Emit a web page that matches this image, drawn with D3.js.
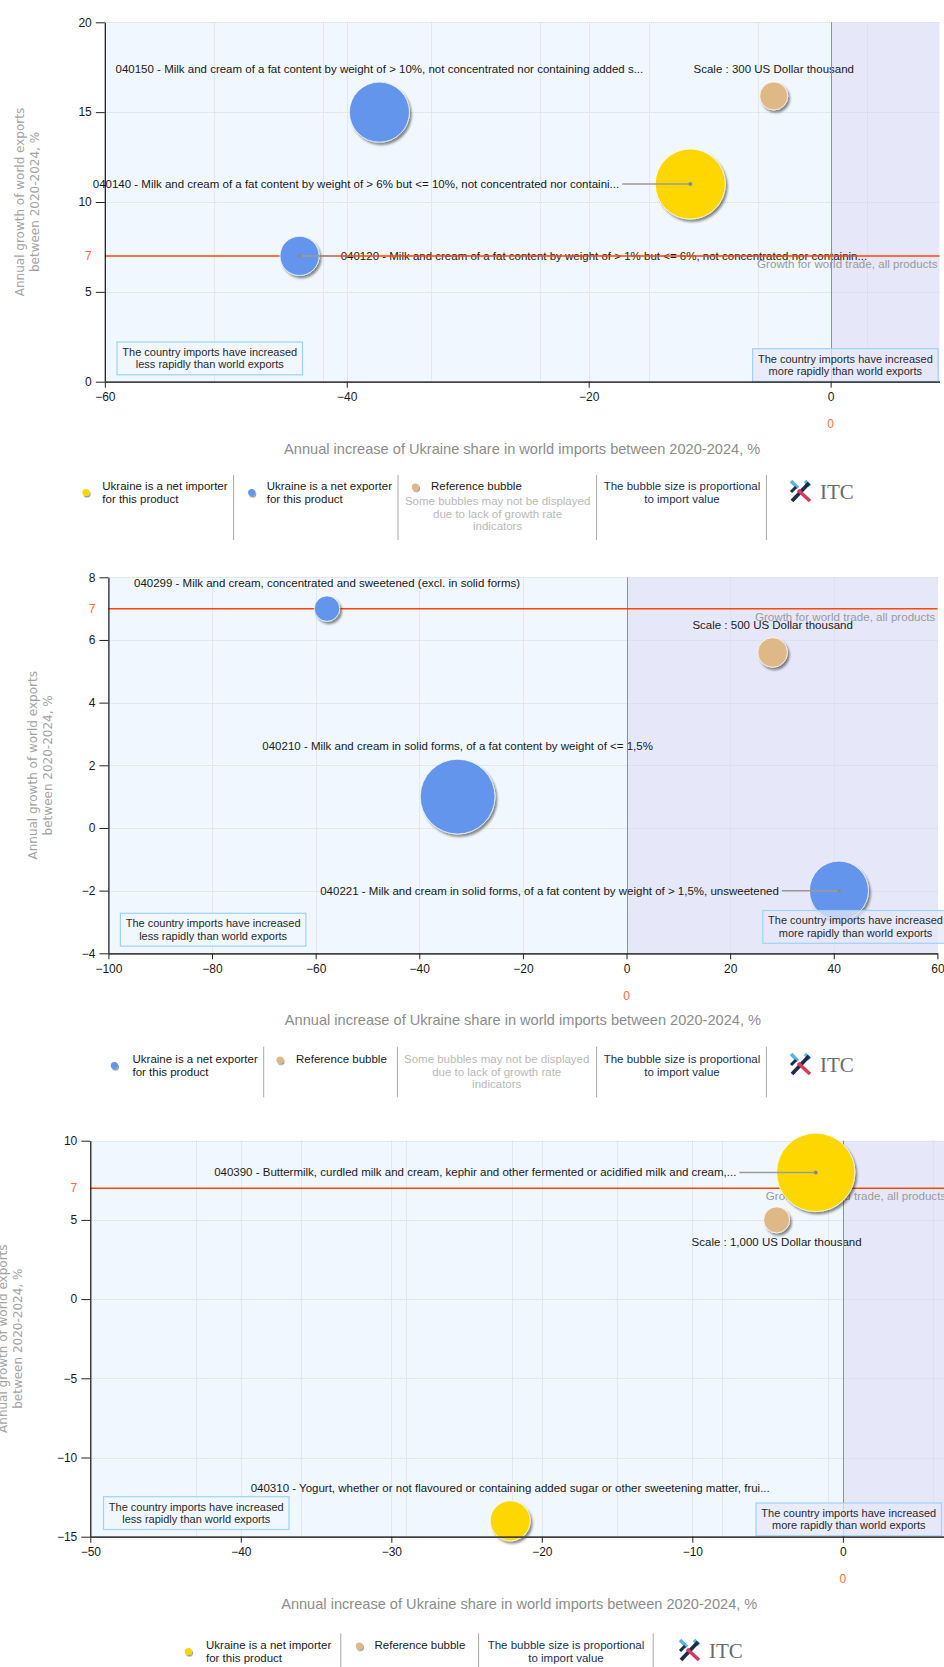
<!DOCTYPE html>
<html><head><meta charset="utf-8">
<script src="https://cdn.jsdelivr.net/npm/d3@7"></script>
<style>
body{margin:0;background:#fff;}
svg{display:block;font-family:"Liberation Sans",Arial,sans-serif;}
</style></head><body>
<svg id="chart" width="944" height="1667"></svg>
<script>
// ================= DATA =================
// shared
const worldTradeGrowth = 7;
const refShareGrowth = [-4.7, 28.2, -4.4];
const refWorldGrowth = [15.9, 5.6, 5];
const refValue = [300, 500, 1000];
const refLabels = ["Scale : 300 US Dollar thousand", "Scale : 500 US Dollar thousand", "Scale : 1,000 US Dollar thousand"];

// chart 1
const c1Labels = [
  "040150 - Milk and cream of a fat content by weight of > 10%, not concentrated nor containing added s...",
  "040140 - Milk and cream of a fat content by weight of > 6% but <= 10%, not concentrated nor containi...",
  "040120 - Milk and cream of a fat content by weight of > 1% but <= 6%, not concentrated nor containin..."
];
const c1ShareGrowth = [-37.3, -11.6, -43.9];
const c1WorldGrowth = [15, 11, 7];
const c1ImportValue = [1380, 1880, 585];
const c1Trader = ["exporter", "importer", "exporter"];
const c1XTicks = [-60, -40, -20, 0];
const c1YTicks = [0, 5, 10, 15, 20];

// chart 2
const c2Labels = [
  "040299 - Milk and cream, concentrated and sweetened (excl. in solid forms)",
  "040210 - Milk and cream in solid forms, of a fat content by weight of <= 1,5%",
  "040221 - Milk and cream in solid forms, of a fat content by weight of > 1,5%, unsweetened"
];
const c2ShareGrowth = [-57.8, -32.6, 41];
const c2WorldGrowth = [7, 1, -2];
const c2ImportValue = [368, 3190, 1990];
const c2Trader = ["exporter", "exporter", "exporter"];
const c2XTicks = [-100, -80, -60, -40, -20, 0, 20, 40, 60];
const c2YTicks = [-4, -2, 0, 2, 4, 6, 8];

// chart 3
const c3Labels = [
  "040390 - Buttermilk, curdled milk and cream, kephir and other fermented or acidified milk and cream,...",
  "040310 - Yogurt, whether or not flavoured or containing added sugar or other sweetening matter, frui..."
];
const c3ShareGrowth = [-1.8, -22.1];
const c3WorldGrowth = [8, -14];
const c3ImportValue = [9090, 2370];
const c3Trader = ["importer", "importer"];
const c3XTicks = [-50, -40, -30, -20, -10, 0];
const c3YTicks = [-15, -10, -5, 0, 5, 10];

const yTitle = ["Annual growth of world exports", "between 2020-2024, %"];
const xTitle = "Annual increase of Ukraine share in world imports between 2020-2024, %";
const boxLess = ["The country imports have increased", "less rapidly than world exports"];
const boxMore = ["The country imports have increased", "more rapidly than world exports"];
const growthLabel = "Growth for world trade, all products";
const legImporter = ["Ukraine is a net importer", "for this product"];
const legExporter = ["Ukraine is a net exporter", "for this product"];
const legRef = "Reference bubble";
const legNote = ["Some bubbles may not be displayed", "due to lack of growth rate", "indicators"];
const legSize = ["The bubble size is proportional", "to import value"];

// ================= LAYOUT =================
const colorOf = {importer: "#FFD700", exporter: "#6495ED", reference: "#DEB887"};

const charts = [
  {labels: c1Labels, xs: c1ShareGrowth, ys: c1WorldGrowth, vals: c1ImportValue, types: c1Trader,
   xTicks: c1XTicks, yTicks: c1YTicks, idx: 0,
   top: 22.3, bottom: 381.7, left: 104.8, right: 939.5, xDomain: [-60, 9], yDomain: [0, 20], gridStep: 9,
   refR: 14, labelPos: ["above", "left", "right"], refPos: "above", titleX: [20, 35],
   boxL: [117, 342], boxR: [752.6, 348.7],
   legend: {y: 486, sepTop: 475, sepBot: 540, items: [
     {t: "dot2", c: "importer", x: 86, lines: legImporter, tx: 102.3},
     {t: "sep", x: 233.6},
     {t: "dot2", c: "exporter", x: 251.7, lines: legExporter, tx: 266.7},
     {t: "sep", x: 398},
     {t: "ref", x: 415.4, tx: 431, noteX: 497.6, noteY: 501},
     {t: "sep", x: 596.6},
     {t: "size", x: 682},
     {t: "sep", x: 766.4},
     {t: "logo", x: 790, y: 491}
   ]}},
  {labels: c2Labels, xs: c2ShareGrowth, ys: c2WorldGrowth, vals: c2ImportValue, types: c2Trader,
   xTicks: c2XTicks, yTicks: c2YTicks, idx: 1,
   top: 577.3, bottom: 953.3, left: 108.4, right: 937.4, xDomain: [-100, 60], yDomain: [-4, 8], gridStep: 20,
   refR: 14.8, labelPos: ["above", "above", "left"], refPos: "above", titleX: [33, 48],
   boxL: [120.4, 913.3], boxR: [762.8, 910.5],
   legend: {y: 1059, sepTop: 1046.7, sepBot: 1097.3, items: [
     {t: "dot2", c: "exporter", x: 114.4, lines: legExporter, tx: 132.5},
     {t: "sep", x: 263.7},
     {t: "ref", x: 280, tx: 296},
     {t: "sep", x: 397.4},
     {t: "note", x: 496.7},
     {t: "sep", x: 596.6},
     {t: "size", x: 682},
     {t: "sep", x: 766.4},
     {t: "logo", x: 790, y: 1064}
   ]}},
  {labels: c3Labels, xs: c3ShareGrowth, ys: c3WorldGrowth, vals: c3ImportValue, types: c3Trader,
   xTicks: c3XTicks, yTicks: c3YTicks, idx: 2,
   top: 1140.7, bottom: 1536.7, left: 90.3, right: 948.2, xDomain: [-50, 7], yDomain: [-15, 10], gridStep: 7,
   refR: 13, labelPos: ["left", "above"], refPos: "below", titleX: [3, 18],
   boxL: [103.5, 1496.7], boxR: [756, 1503],
   legend: {y: 1645, sepTop: 1633.3, sepBot: 1672, items: [
     {t: "dot2", c: "importer", x: 188.4, lines: legImporter, tx: 206},
     {t: "sep", x: 340.8},
     {t: "ref", x: 359.4, tx: 374.5},
     {t: "sep", x: 478.6},
     {t: "size", x: 566},
     {t: "sep", x: 653.2},
     {t: "logo", x: 679, y: 1650}
   ]}}
];

// ================= DRAW =================
const svg = d3.select("#chart");
const defs = svg.append("defs");
const f = defs.append("filter").attr("id", "shadow").attr("x", "-40%").attr("y", "-40%").attr("width", "180%").attr("height", "180%");
f.append("feDropShadow").attr("dx", 2).attr("dy", 2.5).attr("stdDeviation", 1.2).attr("flood-color", "#000").attr("flood-opacity", 0.45);
const fs = defs.append("filter").attr("id", "shadowS").attr("x", "-60%").attr("y", "-60%").attr("width", "220%").attr("height", "220%");
fs.append("feDropShadow").attr("dx", 1).attr("dy", 1.5).attr("stdDeviation", 0.6).attr("flood-color", "#000").attr("flood-opacity", 0.4);

const LABEL_SIZE = 11.5;

function textLines(g, x, y, lines, anchor, color, size, gap) {
  lines.forEach((l, i) => {
    g.append("text").attr("x", x).attr("y", y + i * gap).attr("dy", "0.35em")
      .attr("text-anchor", anchor).attr("fill", color).attr("font-size", size).text(l);
  });
}

function drawLogo(g, x, y) {
  const lg = g.append("g").attr("transform", `translate(${x},${y - 11})`);
  lg.append("line").attr("x1", 1).attr("y1", 1).attr("x2", 8).attr("y2", 8).attr("stroke", "#5ab4e5").attr("stroke-width", 3.5);
  lg.append("line").attr("x1", 15).attr("y1", 1).attr("x2", 20).attr("y2", 6).attr("stroke", "#5ab4e5").attr("stroke-width", 3.5);
  lg.append("line").attr("x1", 2).attr("y1", 21).attr("x2", 19).attr("y2", 3).attr("stroke", "#1d2b4c").attr("stroke-width", 3.8);
  lg.append("line").attr("x1", 8).attr("y1", 10).attr("x2", 20).attr("y2", 21).attr("stroke", "#d8385a").attr("stroke-width", 3.5);
  lg.append("line").attr("x1", 1).attr("y1", 12).attr("x2", 6).attr("y2", 7).attr("stroke", "#1d2b4c").attr("stroke-width", 3);
  g.append("text").attr("x", x + 30).attr("y", y + 7.5).attr("font-family", "'Liberation Serif',serif")
    .attr("font-size", 21).attr("fill", "#6a6a6a").text("ITC");
}

charts.forEach(cfg => {
  const g = svg.append("g");
  const x = d3.scaleLinear().domain(cfg.xDomain).range([cfg.left, cfg.right]);
  const y = d3.scaleLinear().domain(cfg.yDomain).range([cfg.bottom, cfg.top]);
  const r = d3.scaleSqrt().domain([0, refValue[cfg.idx]]).range([0, cfg.refR]);
  const H = cfg.bottom - cfg.top;
  const xz = Math.round(x(0));

  // quadrant backgrounds
  g.append("rect").attr("x", cfg.left).attr("y", cfg.top).attr("width", xz - cfg.left).attr("height", H).attr("fill", "#F0F7FE");
  g.append("rect").attr("x", xz).attr("y", cfg.top).attr("width", cfg.right - xz).attr("height", H).attr("fill", "#E6E8FA");

  // grid
  const minor = d3.range(cfg.xDomain[0] + cfg.gridStep, cfg.xDomain[1], cfg.gridStep);
  const xGrid = Array.from(new Set(cfg.xTicks.concat(minor))).filter(v => v > cfg.xDomain[0] && v !== 0);
  g.selectAll(null).data(xGrid).join("line")
    .attr("x1", d => Math.round(x(d)) + 0.5).attr("x2", d => Math.round(x(d)) + 0.5).attr("y1", cfg.top).attr("y2", cfg.bottom)
    .attr("stroke", "#d6d9de").attr("stroke-width", 1).attr("stroke-dasharray", "1,1");
  g.selectAll(null).data(cfg.yTicks.filter(v => v > cfg.yDomain[0])).join("line")
    .attr("x1", cfg.left).attr("x2", cfg.right).attr("y1", d => Math.round(y(d)) + 0.5).attr("y2", d => Math.round(y(d)) + 0.5)
    .attr("stroke", "#d6d9de").attr("stroke-width", 1).attr("stroke-dasharray", "1,1");

  // bubble records
  const bubbles = cfg.xs.map((v, i) => ({x: v, y: cfg.ys[i], v: cfg.vals[i], type: cfg.types[i], label: cfg.labels[i], pos: cfg.labelPos[i]}));
  const ref = {x: refShareGrowth[cfg.idx], y: refWorldGrowth[cfg.idx], v: refValue[cfg.idx], type: "reference", label: refLabels[cfg.idx], pos: cfg.refPos};
  const all = [ref].concat(bubbles);

  // labels
  const lab = g.append("g").attr("font-size", LABEL_SIZE).attr("fill", "#1a1a1a");
  all.forEach(b => {
    const cx = x(b.x), cy = y(b.y), rr = r(b.v);
    let tx = cx, ty = cy, anchor = "middle";
    if (b.pos === "above") ty = cy - rr - 13;
    else if (b.pos === "below") ty = cy + rr + 9;
    else if (b.pos === "left") { tx = cx - 2 * rr - 1; anchor = "end"; }
    else if (b.pos === "right") { tx = cx + 2 * rr + 2; anchor = "start"; }
    lab.append("text").attr("x", tx).attr("y", ty).attr("dy", "0.35em").attr("text-anchor", anchor).text(b.label);
  });

  // world trade growth reference
  g.append("text").attr("x", cfg.right - 2).attr("y", y(worldTradeGrowth) + 8).attr("dy", "0.35em")
    .attr("text-anchor", "end").attr("font-size", 11.6).attr("fill", "#9a9a9a").text(growthLabel);
  g.append("line").attr("x1", xz + 0.5).attr("x2", xz + 0.5).attr("y1", cfg.top).attr("y2", cfg.bottom)
    .attr("stroke", "#FF6A3D").attr("stroke-width", 1);
  g.append("line").attr("x1", cfg.left).attr("x2", cfg.right).attr("y1", y(worldTradeGrowth)).attr("y2", y(worldTradeGrowth))
    .attr("stroke", "#FF4500").attr("stroke-width", 1.5);

  // bubbles
  g.selectAll(null).data(all).join("circle")
    .attr("cx", d => x(d.x)).attr("cy", d => y(d.y)).attr("r", d => r(d.v))
    .attr("fill", d => colorOf[d.type]).attr("stroke", "#ffffff").attr("stroke-opacity", 0.7).attr("stroke-width", 1)
    .attr("filter", "url(#shadow)");

  // leader lines
  all.filter(b => b.pos === "left" || b.pos === "right").forEach(b => {
    const cx = x(b.x), cy = y(b.y), rr = r(b.v);
    const x1 = b.pos === "left" ? cx - 2 * rr + 2 : cx + 2 * rr;
    g.append("line").attr("x1", x1).attr("x2", cx).attr("y1", cy).attr("y2", cy).attr("stroke", "#9a9a9a").attr("stroke-width", 1.5);
    g.append("circle").attr("cx", cx).attr("cy", cy).attr("r", 2).attr("fill", "#8a8a8a");
  });

  // quadrant boxes
  [[cfg.boxL, boxLess, "rgba(240,247,254,0.75)"], [cfg.boxR, boxMore, "rgba(230,232,250,0.75)"]].forEach(([p, lines, fill]) => {
    g.append("rect").attr("x", p[0]).attr("y", p[1]).attr("width", 185.5).attr("height", 32.8)
      .attr("fill", fill).attr("stroke", "#9dd3f7").attr("stroke-width", 1.2);
    textLines(g, p[0] + 92.75, p[1] + 10, lines, "middle", "#2a2a2a", 11, 12.6);
  });

  // axes
  const yAxis = g.append("g").attr("transform", `translate(${cfg.left},0)`)
    .call(d3.axisLeft(y).tickValues(cfg.yTicks).tickSize(9).tickSizeOuter(0).tickPadding(4));
  const xAxis = g.append("g").attr("transform", `translate(0,${cfg.bottom})`)
    .call(d3.axisBottom(x).tickValues(cfg.xTicks).tickSize(6).tickSizeOuter(0).tickPadding(5));
  [yAxis, xAxis].forEach(a => {
    a.selectAll("text").attr("font-size", 12).attr("font-family", "'Liberation Sans',Arial,sans-serif").attr("fill", "#1a1a1a");
    a.selectAll("line").attr("stroke", "#222");
  });
  yAxis.select(".domain").attr("stroke", "#111").attr("stroke-width", 1.2);
  xAxis.select(".domain").attr("stroke", "#444").attr("stroke-width", 1.8);

  // highlighted 7 and 0
  g.append("text").attr("x", cfg.left - 13).attr("y", y(worldTradeGrowth)).attr("dy", "0.35em").attr("text-anchor", "end")
    .attr("font-size", 12).attr("fill", "#FF6A3D").text(worldTradeGrowth);
  g.append("text").attr("x", x(0)).attr("y", cfg.bottom + 42).attr("dy", "0.35em").attr("text-anchor", "middle")
    .attr("font-size", 12).attr("fill", "#FF6A3D").text("0");

  // axis titles
  g.append("text").attr("x", (cfg.left + cfg.right) / 2).attr("y", cfg.bottom + 67).attr("dy", "0.35em")
    .attr("text-anchor", "middle").attr("font-size", 14.6).attr("fill", "#8c8c8c").text(xTitle);
  const cyMid = (cfg.top + cfg.bottom) / 2;
  yTitle.forEach((l, i) => {
    g.append("text").attr("transform", `translate(${cfg.titleX[i]},${cyMid}) rotate(-90)`).attr("dy", "0.35em")
      .attr("text-anchor", "middle").attr("font-family", "'DejaVu Sans',sans-serif").attr("font-size", 12)
      .attr("fill", "#a3a3a3").text(l);
  });

  // legend
  const L = cfg.legend;
  const lg = g.append("g");
  L.items.forEach(it => {
    if (it.t === "sep") {
      lg.append("line").attr("x1", it.x).attr("x2", it.x).attr("y1", L.sepTop).attr("y2", L.sepBot).attr("stroke", "#a8a8a8");
    } else if (it.t === "dot2") {
      lg.append("circle").attr("cx", it.x).attr("cy", L.y + 6.5).attr("r", 3.6).attr("fill", colorOf[it.c]).attr("filter", "url(#shadowS)");
      textLines(lg, it.tx, L.y, it.lines, "start", "#1a1a1a", 11.5, 13.3);
    } else if (it.t === "ref") {
      lg.append("circle").attr("cx", it.x).attr("cy", L.y + 1).attr("r", 3.6).attr("fill", colorOf.reference).attr("filter", "url(#shadowS)");
      textLines(lg, it.tx, L.y, [legRef], "start", "#1a1a1a", 11.5, 13.3);
      if (it.noteX) textLines(lg, it.noteX, it.noteY, legNote, "middle", "#b9b9b9", 11.5, 12.5);
    } else if (it.t === "note") {
      textLines(lg, it.x, L.y, legNote, "middle", "#b9b9b9", 11.5, 12.5);
    } else if (it.t === "size") {
      textLines(lg, it.x, L.y, legSize, "middle", "#1c2f52", 11.5, 13.3);
    } else if (it.t === "logo") {
      drawLogo(lg, it.x, it.y);
    }
  });
});
</script>
</body></html>
